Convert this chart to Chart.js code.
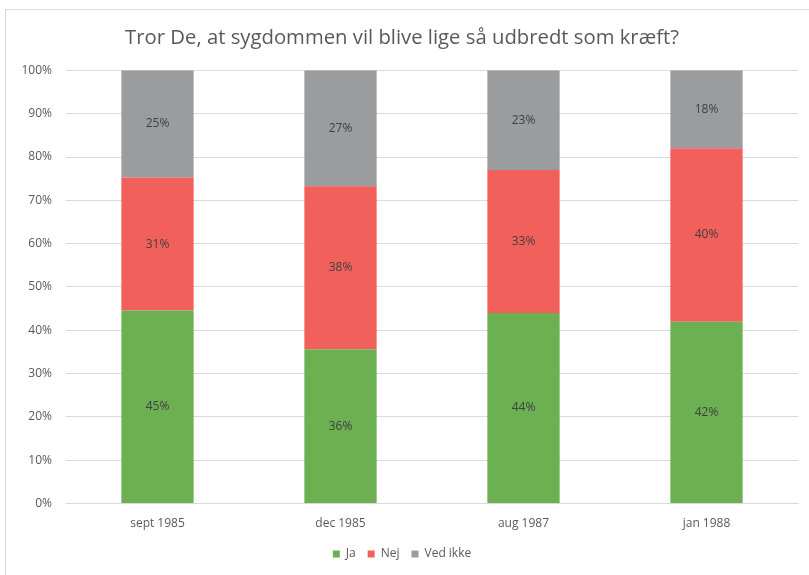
<!DOCTYPE html>
<html>
<head>
<meta charset="utf-8">
<script src="https://cdn.jsdelivr.net/npm/chart.js@4"></script>
<style>
  html, body { margin: 0; padding: 0; background: #fff; overflow: hidden; }
  #frame {
    position: absolute; left: 5px; top: 9px; width: 810px; height: 570px;
    border: 1px solid #d9d9d9; box-sizing: border-box;
  }
  #wrap { position: absolute; left: 0; top: 0; width: 804px; height: 566px; }
</style>
</head>
<body>
<div id="frame"><div id="wrap"><canvas id="chart"></canvas></div></div>
<script>
// survey rounds and answers (percent, as printed in the bars)
const periods = ['sept 1985', 'dec 1985', 'aug 1987', 'jan 1988'];
const ja = [45, 36, 44, 42];
const nej = [31, 38, 33, 40];
const vedIkke = [25, 27, 23, 18];
const yTicks = [0, 10, 20, 30, 40, 50, 60, 70, 80, 90, 100];

const FONT = "'Open Sans', sans-serif";

// 100% stacking: scale each column to its own total
const totals = periods.map((_, i) => ja[i] + nej[i] + vedIkke[i]);
const share = arr => arr.map((v, i) => v / totals[i] * 100);

const series = [
  { label: 'Ja', raw: ja, color: '#6cb052' },
  { label: 'Nej', raw: nej, color: '#f2605c' },
  { label: 'Ved ikke', raw: vedIkke, color: '#9a9c9d' }
];

const barLabels = {
  id: 'barLabels',
  afterDatasetsDraw(chart) {
    const ctx = chart.ctx;
    ctx.save();
    ctx.font = '12px ' + FONT;
    ctx.fillStyle = '#404040';
    ctx.textAlign = 'center';
    ctx.textBaseline = 'middle';
    chart.data.datasets.forEach((ds, di) => {
      chart.getDatasetMeta(di).data.forEach((bar, i) => {
        ctx.fillText(ds.raw[i] + '%', bar.x, (bar.y + bar.base) / 2);
      });
    });
    ctx.restore();
  }
};

new Chart(document.getElementById('chart'), {
  type: 'bar',
  data: {
    labels: periods,
    datasets: series.map(s => ({
      label: s.label,
      raw: s.raw,
      data: share(s.raw),
      backgroundColor: s.color,
      categoryPercentage: 1,
      barPercentage: 0.395
    }))
  },
  options: {
    responsive: true,
    maintainAspectRatio: false,
    animation: false,
    layout: { padding: { top: 12, right: 12, left: 0, bottom: 6 } },
    plugins: {
      title: {
        display: true,
        text: 'Tror De, at sygdommen vil blive lige så udbredt som kræft?',
        color: '#595959',
        font: { family: FONT, size: 20.3, weight: 'normal' },
        padding: { top: 4, bottom: 20 }
      },
      legend: {
        position: 'bottom',
        labels: {
          color: '#595959',
          font: { family: FONT, size: 12 },
          boxWidth: 7, boxHeight: 7, padding: 12
        }
      },
      tooltip: { enabled: false }
    },
    scales: {
      x: {
        stacked: true,
        grid: { display: false },
        border: { color: '#d9d9d9' },
        ticks: { color: '#595959', font: { family: FONT, size: 12 }, padding: 5 }
      },
      y: {
        stacked: true,
        min: 0, max: 100,
        afterBuildTicks: axis => { axis.ticks = yTicks.map(v => ({ value: v })); },
        afterFit: axis => { axis.width = 60; },
        grid: { color: '#d9d9d9', drawTicks: false },
        border: { display: false },
        ticks: {
          color: '#595959', padding: 14,
          font: { family: FONT, size: 12 },
          callback: v => v + '%'
        }
      }
    }
  },
  plugins: [barLabels]
});
</script>
</body>
</html>
